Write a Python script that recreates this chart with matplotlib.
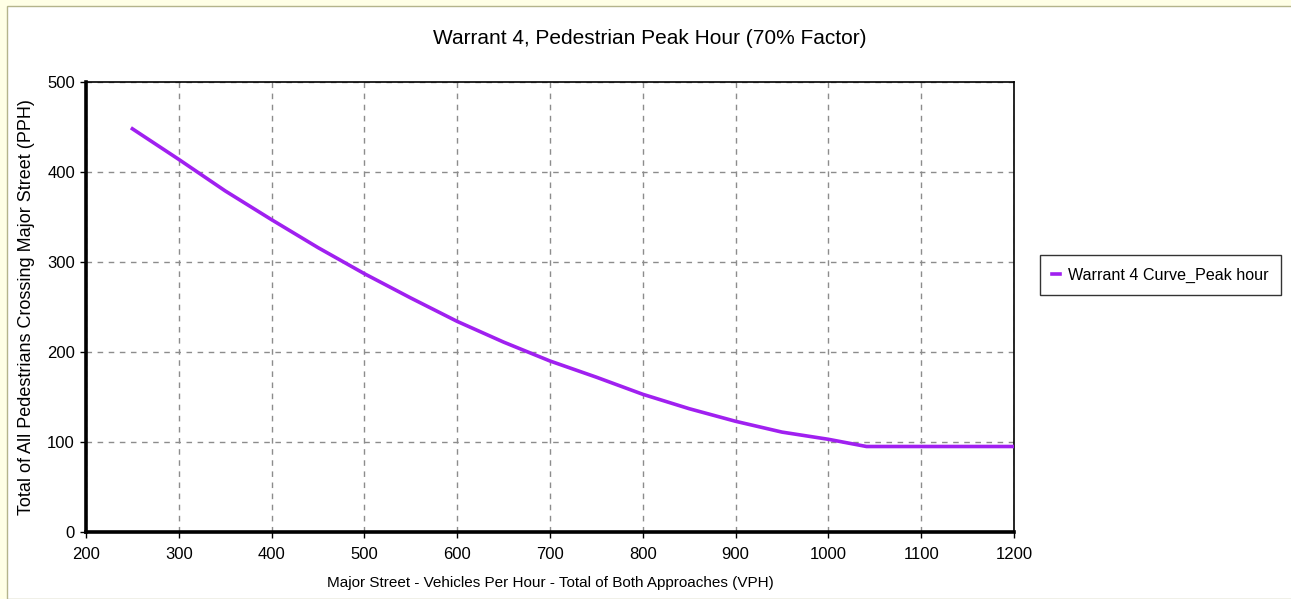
import matplotlib
matplotlib.use("Agg")
import matplotlib.pyplot as plt
from matplotlib.patches import Rectangle
from matplotlib.ticker import MultipleLocator

# Data
vph = [250, 300, 350, 400, 450, 500, 550, 600, 650, 700, 750, 800, 850,
       900, 950, 1000, 1041, 1200]
pph = [448, 414, 379, 347, 316, 287, 260, 234, 211, 190, 172, 153, 137,
       123, 111, 103, 95, 95]
series_name = "Warrant 4 Curve_Peak hour"
title = "Warrant 4, Pedestrian Peak Hour (70% Factor)"
xlabel = "Major Street - Vehicles Per Hour - Total of Both Approaches (VPH)"
ylabel = "Total of All Pedestrians Crossing Major Street (PPH)"

FONT = ["Liberation Sans", "DejaVu Sans"]
plt.rcParams["font.family"] = FONT

W, H = 1291, 599
fig = plt.figure(figsize=(W / 100, H / 100), dpi=100)
fig.patch.set_facecolor("#FFFFE6")
bg = Rectangle((7 / W, 0), 1, 1 - 6 / H, transform=fig.transFigure,
               facecolor="white", edgecolor="#B4B48C", linewidth=1.0,
               zorder=-10)
fig.add_artist(bg)

ax = fig.add_axes([86 / W, 1 - 532 / H, (1014 - 86) / W, (532 - 82) / H])
ax.set_zorder(1)
ax.patch.set_facecolor("white")
ax.plot(vph, pph, color="#A020F0", linewidth=2.6, label=series_name,
        solid_joinstyle="round", zorder=3)

ax.set_xlim(200, 1200)
ax.set_ylim(0, 500)
ax.xaxis.set_major_locator(MultipleLocator(100))
ax.yaxis.set_major_locator(MultipleLocator(100))
ax.grid(True, color="#8C8C8C", linestyle=(0, (4, 4)), linewidth=1.0)

for side in ["left", "bottom"]:
    ax.spines[side].set_linewidth(2.6)
for side in ["top", "right"]:
    ax.spines[side].set_linewidth(1.2)
ax.tick_params(direction="out", length=4, width=1, labelsize=12, colors="black")
ax.tick_params(axis="x", pad=7)
ax.tick_params(axis="y", pad=4)

ax.set_xlabel(xlabel, fontsize=11, labelpad=10)
ax.set_ylabel(ylabel, fontsize=13, labelpad=9)
fig.text(650 / W, 1 - 38 / H, title, ha="center", va="center", fontsize=15)

leg = ax.legend(loc="center left", bbox_to_anchor=(1.028, 0.571), frameon=True,
                fancybox=False, fontsize=11.6, handlelength=0.5,
                handletextpad=0.5, borderpad=0.75, borderaxespad=0)
leg.get_frame().set_edgecolor("black")
leg.get_frame().set_linewidth(1.0)

fig.savefig("out.png", dpi=100, facecolor=fig.get_facecolor())
